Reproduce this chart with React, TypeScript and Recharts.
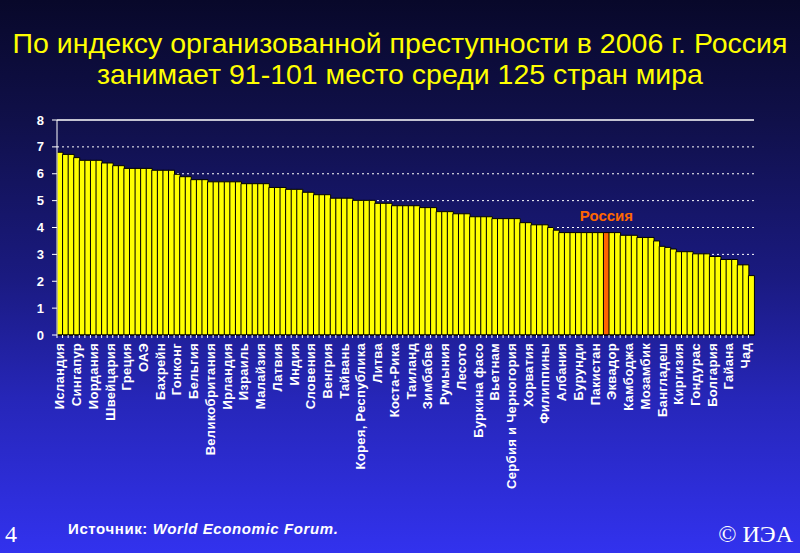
import React from 'react';
import { BarChart, Bar, XAxis, YAxis, CartesianGrid, Cell, LabelList, ReferenceLine } from 'recharts';

// Индекс организованной преступности, 125 стран (убывание)
const values = [
  6.8, 6.72, 6.72, 6.6, 6.5, 6.5, 6.5, 6.5, 6.4, 6.4,
  6.3, 6.3, 6.2, 6.2, 6.2, 6.2, 6.2, 6.13, 6.13, 6.13,
  6.13, 5.98, 5.89, 5.89, 5.78, 5.78, 5.78, 5.7, 5.7, 5.7,
  5.7, 5.7, 5.7, 5.63, 5.63, 5.63, 5.63, 5.63, 5.49, 5.49,
  5.49, 5.42, 5.42, 5.42, 5.31, 5.31, 5.22, 5.22, 5.22, 5.09,
  5.09, 5.09, 5.09, 5.01, 5.01, 5.01, 5.01, 4.9, 4.9, 4.9,
  4.81, 4.81, 4.81, 4.81, 4.81, 4.74, 4.74, 4.74, 4.59, 4.59,
  4.59, 4.51, 4.51, 4.51, 4.4, 4.4, 4.4, 4.4, 4.33, 4.33,
  4.33, 4.33, 4.33, 4.18, 4.18, 4.1, 4.1, 4.1, 4.0, 3.9,
  3.81, 3.81, 3.81, 3.81, 3.81, 3.81, 3.81, 3.81, 3.81, 3.81,
  3.81, 3.71, 3.71, 3.71, 3.63, 3.63, 3.63, 3.5, 3.3, 3.26,
  3.2, 3.1, 3.1, 3.1, 3.02, 3.02, 3.02, 2.92, 2.92, 2.81,
  2.81, 2.81, 2.61, 2.61, 2.21,
];

// подписи стоят под каждым третьим столбцом
const countryLabels = [
  'Исландия', 'Сингапур', 'Иордания', 'Швейцария', 'Греция', 'ОАЭ',
  'Бахрейн', 'Гонконг', 'Бельгия', 'Великобритания', 'Ирландия', 'Израиль',
  'Малайзия', 'Латвия', 'Индия', 'Словения', 'Венгрия', 'Тайвань',
  'Корея, Республика', 'Литва', 'Коста-Рика', 'Таиланд', 'Зимбабве', 'Румыния',
  'Лесото', 'Буркина фасо', 'Вьетнам', 'Сербия и Черногория', 'Хорватия', 'Филиппины',
  'Албания', 'Бурунди', 'Пакистан', 'Эквадор', 'Камбоджа', 'Мозамбик',
  'Бангладеш', 'Киргизия', 'Гондурас', 'Болгария', 'Гайана', 'Чад',
];
const labelStep = 3;

const yTicks = [0, 1, 2, 3, 4, 5, 6, 7, 8];

const russiaIndex = 98;
const russiaName = 'Россия';

const data = values.map((value, i) => ({
  id: i,
  name: i % labelStep === 0 ? countryLabels[i / labelStep] ?? '' : '',
  value,
}));

const W = 800;
const H = 553;
const MARGIN = { top: 120, right: 46, left: 0, bottom: 0 };
const Y_WIDTH = 57;
const X_HEIGHT = 218;
const BAND = (W - MARGIN.right - Y_WIDTH) / values.length;

const YELLOW = '#ffff00';
const ORANGE = '#ff6600';
const FONT = '"Liberation Sans", Arial, sans-serif';
const SERIF = '"Liberation Serif", "Times New Roman", serif';

function XTick(props: any) {
  const { x, y, payload } = props;
  const row = data[payload.value];
  const left = x - BAND / 2;
  return (
    <g>
      <line x1={left} y1={y} x2={left} y2={y + 3} stroke="#ffffff" strokeWidth={1} />
      {row && row.name ? (
        <text
          x={x}
          y={y + 8}
          dy="0.35em"
          transform={`rotate(-90, ${x}, ${y + 8})`}
          textAnchor="end"
          fill="#ffffff"
          fontSize={13}
          fontWeight="bold"
          fontFamily={FONT}
          letterSpacing={0.3}
        >
          {row.name}
        </text>
      ) : null}
    </g>
  );
}

function RussiaLabel(props: any) {
  const { x, y, width, index } = props;
  if (index !== russiaIndex) return null;
  return (
    <text
      x={x + width / 2}
      y={y - 12}
      textAnchor="middle"
      fill={ORANGE}
      fontSize={15}
      fontWeight="bold"
      fontFamily={FONT}
    >
      {russiaName}
    </text>
  );
}

export default function App() {
  return (
    <div
      style={{
        position: 'absolute',
        left: 0,
        top: 0,
        width: W,
        height: H,
        overflow: 'hidden',
        background: 'linear-gradient(to bottom, #08082a 0%, #10104a 22%, #1a1a80 50%, #2626b8 72%, #3232ee 100%)',
        fontFamily: FONT,
      }}
    >
      <div
        style={{
          position: 'absolute',
          left: 0,
          top: 28,
          width: W,
          textAlign: 'center',
          color: YELLOW,
          fontSize: 28.5,
          lineHeight: '31px',
        }}
      >
        По индексу организованной преступности в 2006 г. Россия
        <br />
        занимает 91-101 место среди 125 стран мира
      </div>

      <div style={{ position: 'absolute', left: 0, top: 0 }}>
        <BarChart width={W} height={H} data={data} margin={MARGIN} barCategoryGap={0} barGap={0}>
          <CartesianGrid
            horizontal
            vertical={false}
            stroke="#ffffff"
            strokeDasharray="2 3"
            horizontalValues={[1, 2, 3, 4, 5, 6, 7]}
          />
          <XAxis
            dataKey="id"
            type="category"
            interval={0}
            height={X_HEIGHT}
            axisLine={{ stroke: '#000000' }}
            tickLine={false}
            tickSize={0}
            tickMargin={0}
            tick={(p: any) => <XTick {...p} />}
          />
          <YAxis
            domain={[0, 8]}
            ticks={yTicks}
            width={Y_WIDTH}
            axisLine={{ stroke: '#ffffff' }}
            tickLine={{ stroke: '#ffffff' }}
            tickSize={5}
            tickMargin={8}
            tick={{ fill: '#ffffff', fontSize: 13, fontWeight: 'bold', fontFamily: FONT }}
          />
          <YAxis
            yAxisId="right"
            orientation="right"
            domain={[0, 8]}
            width={0}
            tick={false}
            tickLine={false}
            axisLine={{ stroke: '#ffffff' }}
          />
          <ReferenceLine y={8} stroke="#ffffff" strokeWidth={1.5} />
          <Bar dataKey="value" stroke="#000000" strokeWidth={1} isAnimationActive={false}>
            {data.map((d) => (
              <Cell key={d.id} fill={d.id === russiaIndex ? ORANGE : YELLOW} />
            ))}
            <LabelList dataKey="value" content={(p: any) => <RussiaLabel {...p} />} />
          </Bar>
        </BarChart>
      </div>

      <div style={{ position: 'absolute', left: 5, top: 521, color: '#ffffff', fontFamily: SERIF, fontSize: 24 }}>4</div>
      <div
        style={{
          position: 'absolute',
          left: 68,
          top: 520,
          color: '#ffffff',
          fontSize: 15,
          fontWeight: 'bold',
          letterSpacing: 0.6,
        }}
      >
        Источник: <span style={{ fontStyle: 'italic' }}>World Economic Forum.</span>
      </div>
      <div style={{ position: 'absolute', right: 7, top: 521, color: '#ffffff', fontFamily: SERIF, fontSize: 24 }}>© ИЭА</div>
    </div>
  );
}
